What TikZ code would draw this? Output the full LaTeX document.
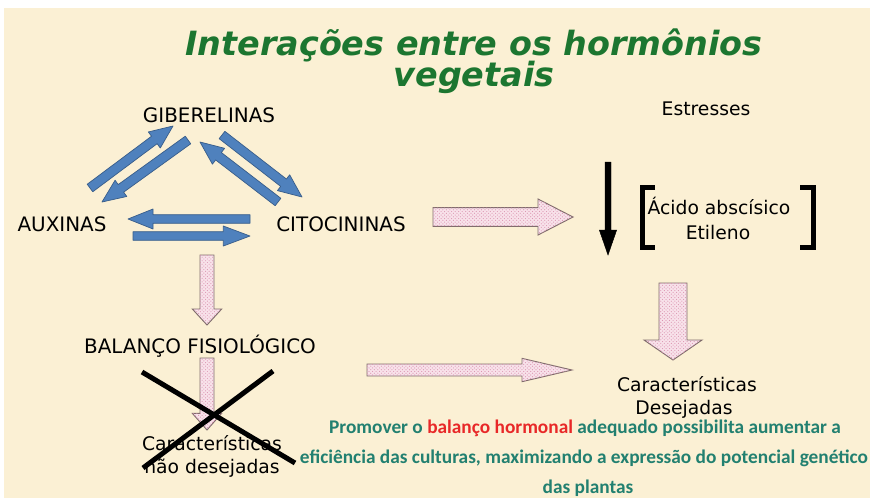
\documentclass[tikz,border=0pt]{standalone}
\usepackage{fontspec}
\setmainfont{DejaVu Sans}
\newfontfamily\notafont{Carlito}
\usepackage{tikz}
\usetikzlibrary{calc, patterns}
\definecolor{fundo}{RGB}{251,240,212}
\definecolor{verdeTit}{RGB}{28,118,48}
\definecolor{azulSeta}{RGB}{79,129,189}
\definecolor{azulBorda}{RGB}{56,93,138}
\definecolor{rosaSeta}{RGB}{248,226,234}
\definecolor{rosaPonto}{RGB}{220,150,178}
\definecolor{bordaRosa}{RGB}{128,108,108}
\definecolor{tealNota}{RGB}{34,128,112}
\definecolor{vermNota}{RGB}{232,40,40}

% seta larga: estilo, origem, destino, meia haste, meia ponta, comprimento da ponta
\newcommand{\blocoseta}[6]{%
  \coordinate (bs) at ($(#3)!#6!(#2)$);
  \draw[#1] ($(#2)!#4!90:(#3)$) -- ($(bs)!#4!-90:(#2)$) -- ($(bs)!#5!-90:(#2)$) -- (#3)
    -- ($(bs)!#5!90:(#2)$) -- ($(bs)!#4!90:(#2)$) -- ($(#2)!#4!-90:(#3)$) -- cycle;}

\tikzset{
  titulo/.style={font=\fontsize{28.5}{30}\selectfont\bfseries\itshape, text=verdeTit, anchor=base, inner sep=1pt},
  rotulo/.style={font=\fontsize{17}{20}\selectfont, anchor=base},
  texto/.style={font=\fontsize{16}{19}\selectfont, anchor=base, inner sep=1pt},
  nota/.style={font=\notafont\bfseries\fontsize{16.5}{19}\selectfont, text=tealNota, anchor=base, inner sep=1pt},
  setaAzul/.style={fill=azulSeta, draw=azulBorda, line width=0.6pt, line join=round},
  setaRosa/.style={fill=rosaSeta, draw=bordaRosa, line width=0.8pt,
    postaction={pattern=crosshatch dots, pattern color=rosaPonto}},
  colchete/.style={line width=0.15cm},
  cruz/.style={line width=0.15cm}
}

\begin{document}
\begin{tikzpicture}[x=0.03cm, y=-0.03cm]
    % fundo
    \fill[white] (0,0) rectangle (877,498);
    \fill[fundo] (4,8) rectangle (870,498);

    % titulo
    \node[titulo] (tit1) at (474,55) {Interações entre os hormônios};
    \node[titulo] (tit2) at (474,86) {vegetais};

    % 1. hormonios
    \node[rotulo] (gib) at (209,122) {GIBERELINAS};
    \node[rotulo] (aux) at (62,231) {AUXINAS};
    \node[rotulo] (cito) at (341,231) {CITOCININAS};

    % 2. setas azuis entre os hormonios
    \coordinate (a1i) at (90,188);  \coordinate (a1f) at (173,126);
    \coordinate (a2i) at (188,140); \coordinate (a2f) at (102,202);
    \coordinate (a3i) at (222,135); \coordinate (a3f) at (302,197);
    \coordinate (a4i) at (278,202); \coordinate (a4f) at (200,142);
    \coordinate (a5i) at (250,219); \coordinate (a5f) at (128,219);
    \coordinate (a6i) at (133,236); \coordinate (a6f) at (250,236);
    \blocoseta{setaAzul}{a1i}{a1f}{0.14cm}{0.3cm}{0.7cm}
    \blocoseta{setaAzul}{a2i}{a2f}{0.14cm}{0.3cm}{0.7cm}
    \blocoseta{setaAzul}{a3i}{a3f}{0.14cm}{0.3cm}{0.7cm}
    \blocoseta{setaAzul}{a4i}{a4f}{0.14cm}{0.3cm}{0.7cm}
    \blocoseta{setaAzul}{a5i}{a5f}{0.13cm}{0.3cm}{0.75cm}
    \blocoseta{setaAzul}{a6i}{a6f}{0.13cm}{0.3cm}{0.8cm}

    % 3. balanco fisiologico
    \node[rotulo] (bal) at (200,353) {BALANÇO FISIOLÓGICO};
    \node[texto] (carN1) at (212,450) {Características};
    \node[texto] (carN2) at (212,473) {não desejadas};

    % 4. setas rosadas
    \coordinate (p1i) at (433,217); \coordinate (p1f) at (573,217);
    \coordinate (p2i) at (207,255); \coordinate (p2f) at (207,325);
    \coordinate (p3i) at (207,358); \coordinate (p3f) at (207,430);
    \coordinate (p4i) at (367,370); \coordinate (p4f) at (572,370);
    \coordinate (p5i) at (673,283); \coordinate (p5f) at (673,360);
    \blocoseta{setaRosa}{p1i}{p1f}{0.28cm}{0.54cm}{1.05cm}
    \blocoseta{setaRosa}{p2i}{p2f}{0.21cm}{0.44cm}{0.48cm}
    \blocoseta{setaRosa}{p3i}{p3f}{0.21cm}{0.44cm}{0.5cm}
    \blocoseta{setaRosa}{p4i}{p4f}{0.18cm}{0.35cm}{1.5cm}
    \blocoseta{setaRosa}{p5i}{p5f}{0.42cm}{0.87cm}{0.6cm}

    % 5. estresses (preta)
    \node[texto] (estr) at (706,115) {Estresses};
    \coordinate (ei) at (608,162); \coordinate (ef) at (608,255);
    \blocoseta{fill=black}{ei}{ef}{0.09cm}{0.26cm}{0.75cm}
    \node[texto] (acido) at (719,214) {Ácido abscísico};
    \node[texto] (etil) at (718,239) {Etileno};
    \draw[colchete] (655,187) -| (642,247) -- (655,247);
    \draw[colchete] (800,187) -| (813,247) -- (800,247);

    % 6. caracteristicas desejadas
    \node[texto] (carD1) at (687,391) {Características};
    \node[texto] (carD2) at (684,414) {Desejadas};

    % 7. X sobre as nao desejadas
    \draw[cruz] (142,372) -- (295,463);
    \draw[cruz] (273,371) -- (143,468);

    % 8. nota
    \node[nota] (nota1) at (585,433) {Promover o \textcolor{vermNota}{balanço hormonal} adequado possibilita aumentar a};
    \node[nota] (nota2) at (584,463) {eficiência das culturas, maximizando a expressão do potencial genético};
    \node[nota] (nota3) at (588,493) {das plantas};
\end{tikzpicture}
\end{document}
